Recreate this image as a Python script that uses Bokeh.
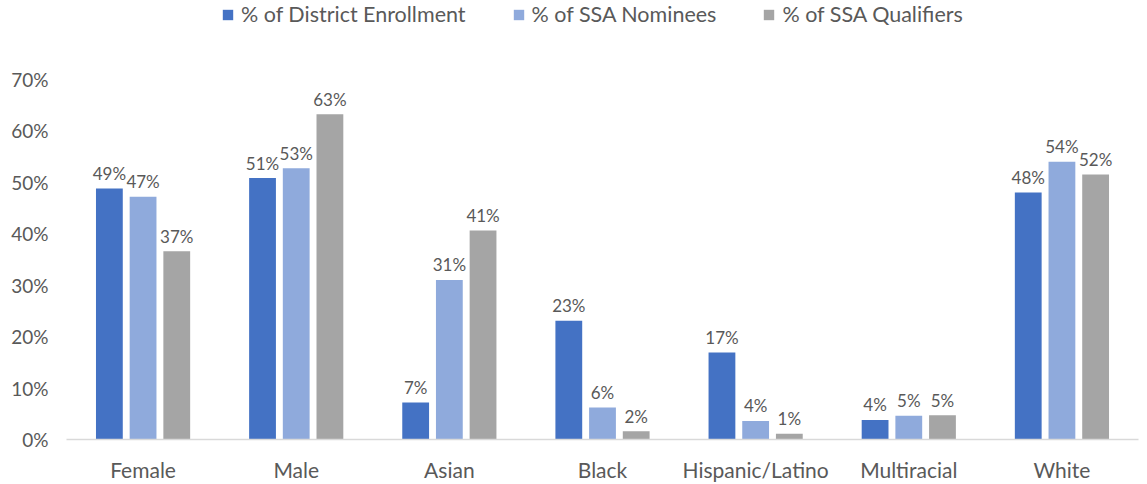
from bokeh.plotting import figure
from bokeh.models import ColumnDataSource, FactorRange, Range1d, FixedTicker, PrintfTickFormatter, Legend, LegendItem
from bokeh.transform import dodge
from bokeh.core.properties import value
from bokeh.embed import file_html
from bokeh.resources import INLINE

categories = ["Female", "Male", "Asian", "Black", "Hispanic/Latino", "Multiracial", "White"]
district_enrollment = [48.8, 50.8, 7.2, 23.1, 16.9, 3.8, 48.0]
ssa_nominees = [47.2, 52.7, 31.0, 6.2, 3.6, 4.6, 54.0]
ssa_qualifiers = [36.6, 63.2, 40.6, 1.6, 1.1, 4.7, 51.5]
series_names = ["% of District Enrollment", "% of SSA Nominees", "% of SSA Qualifiers"]
y_ticks = [0, 10, 20, 30, 40, 50, 60, 70]

colors = ["#4472C4", "#8FAADC", "#A5A5A5"]
FONT = "Lato"
TXT = "#595959"

def fmt(vals):
    return [f"{int(v + 0.5)}%" for v in vals]

src = ColumnDataSource(dict(
    cat=categories,
    a=district_enrollment, b=ssa_nominees, c=ssa_qualifiers,
    la=fmt(district_enrollment), lb=fmt(ssa_nominees), lc=fmt(ssa_qualifiers),
))

p = figure(width=1139, height=484, x_range=FactorRange(*categories, range_padding=0),
           y_range=Range1d(0, 85.32), output_backend="svg", toolbar_location=None,
           min_border_left=66, min_border_right=1, min_border_top=0, min_border_bottom=44)
p.outline_line_color = None
p.xgrid.grid_line_color = None
p.ygrid.grid_line_color = None

offs = [-0.22, 0.0, 0.22]
renderers = []
for key, off, col in zip(["a", "b", "c"], offs, colors):
    r = p.vbar(x=dodge("cat", off, range=p.x_range), top=key, width=0.175, source=src,
               fill_color=col, line_color=None)
    renderers.append(r)
    p.text(x=dodge("cat", off, range=p.x_range), y=key, text="l" + key, source=src,
           text_align="center", text_baseline="alphabetic", y_offset=-15,
           text_font=value(FONT), text_font_size="17px", text_color=TXT)

legend = Legend(items=[LegendItem(label=n, renderers=[r]) for n, r in zip(series_names, renderers)],
                orientation="horizontal", location=(155, 412), padding=0, margin=0,
                spacing=46, label_standoff=7, glyph_width=13, glyph_height=13, label_height=22,
                label_text_font=FONT, label_text_font_size="21.5px", label_text_color=TXT,
                border_line_color=None, background_fill_alpha=0)
p.add_layout(legend)

p.yaxis.ticker = FixedTicker(ticks=y_ticks)
p.yaxis.formatter = PrintfTickFormatter(format="%d%%")
p.yaxis.axis_line_color = None
p.yaxis.major_tick_line_color = None
p.yaxis.major_tick_out = 0
p.yaxis.minor_tick_line_color = None
p.yaxis.major_label_standoff = 18
p.yaxis.major_label_text_font = FONT
p.yaxis.major_label_text_font_size = "19px"
p.yaxis.major_label_text_color = TXT

p.xaxis.axis_line_color = "#D9D9D9"
p.xaxis.axis_line_width = 1.5
p.xaxis.major_tick_line_color = None
p.xaxis.major_tick_out = 0
p.xaxis.major_label_standoff = 17
p.xaxis.major_label_text_font = FONT
p.xaxis.major_label_text_font_size = "21px"
p.xaxis.major_label_text_color = TXT

open("out.html", "w").write(file_html(p, INLINE))
